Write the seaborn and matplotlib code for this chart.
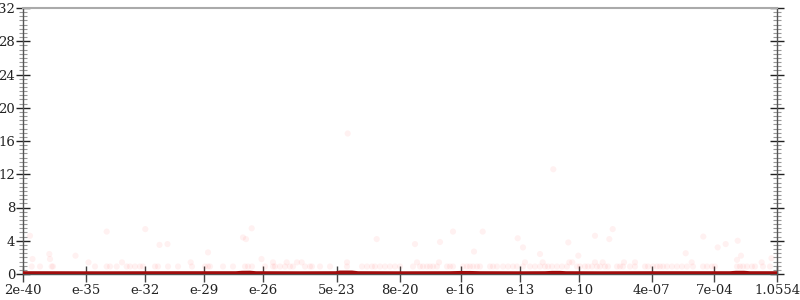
import numpy as np
import pandas as pd
import matplotlib
matplotlib.use("Agg")
import matplotlib.pyplot as plt
from matplotlib.ticker import MultipleLocator
import seaborn as sns

# ---- data (x in axis position units, y in value units) ----
tick_pos = [23, 86, 145.3, 204, 263.3, 336.7, 399.5, 460.5, 520, 579.3, 651.5, 714.3, 777]
tick_labels = ["2e-40", "e-35", "e-32", "e-29", "e-26", "5e-23", "8e-20",
               "e-16", "e-13", "e-10", "4e-07", "7e-04", "1.0554"]

pts_x_high = [30, 106.7, 145.3, 49.3, 50, 32.5, 75.5, 88.5, 122, 159.5, 167.5,
              251.7, 243, 246, 208, 190.7, 261.5, 347.7, 376.7, 273, 286.7, 297,
              301.7, 347, 453, 482.7, 415, 440, 517.7, 523, 474, 417, 439,
              553.3, 612.7, 595, 609.3, 568.3, 540, 578.3, 525, 542.7, 569.3,
              572.3, 595, 602.7, 624, 635, 703.3, 737.7, 725.7, 717.7, 685.7,
              741, 691.7, 761.7, 771.5, 737]
pts_y_high = [4.6, 5.1, 5.4, 2.4, 1.8, 1.8, 2.2, 1.4, 1.4, 3.5, 3.6,
              5.5, 4.4, 4.2, 2.6, 1.4, 1.8, 16.9, 4.2, 1.4, 1.4, 1.4,
              1.4, 1.4, 5.1, 5.1, 3.6, 3.85, 4.3, 3.2, 2.7, 1.4, 1.4,
              12.6, 5.4, 4.6, 4.2, 3.8, 2.4, 2.2, 1.4, 1.4, 1.4,
              1.4, 1.4, 1.4, 1.4, 1.4, 4.5, 4.0, 3.6, 3.2, 2.5,
              2.2, 1.4, 1.4, 1.9, 1.7]

pts_x_low = [31.7, 40, 51.7, 53, 95, 106.7, 110, 116.7, 126.7, 130, 135, 140, 143,
             155, 158, 168, 178, 192, 205, 208, 210, 223, 233, 245, 248, 252, 265,
             273, 275, 280, 285, 290, 293, 305, 310, 312, 320, 330, 347, 362, 367,
             372, 375, 380, 385, 390, 395, 400, 413, 420, 423, 427, 430, 433, 437,
             447, 450, 453, 463, 467, 470, 473, 477, 480, 490, 493, 497, 503, 508,
             513, 517, 523, 530, 535, 540, 545, 548, 552, 557, 562, 567, 577, 580,
             585, 588, 592, 597, 600, 605, 608, 617, 620, 623, 630, 635, 645, 648,
             653, 657, 660, 663, 667, 672, 677, 682, 687, 693, 703, 707, 712, 715,
             737, 740, 743, 747, 752, 755, 763, 770]
pts_y_low = [0.9] * len(pts_x_low)

line_x = [23, 100, 180, 236, 242, 250, 256, 300, 336, 340, 352, 358, 400, 450,
          460, 470, 480, 520, 545, 552, 560, 566, 600, 650, 700, 730, 736, 744, 750, 777]
line_y = [0.12, 0.11, 0.12, 0.12, 0.17, 0.18, 0.12, 0.11, 0.12, 0.2, 0.2, 0.12, 0.11, 0.12,
          0.15, 0.15, 0.12, 0.11, 0.12, 0.16, 0.16, 0.12, 0.11, 0.12, 0.12, 0.12, 0.17, 0.17, 0.12, 0.12]

pts = pd.DataFrame({"x": pts_x_high + pts_x_low, "y": pts_y_high + pts_y_low})
line = pd.DataFrame({"x": line_x, "y": line_y})

sns.set_style("white")
plt.rcParams["font.family"] = ["DejaVu Serif"]

fig = plt.figure(figsize=(8, 3), dpi=100)
ax = fig.add_axes([23 / 800, 26 / 300, 754 / 800, 266 / 300])

sns.scatterplot(data=pts, x="x", y="y", ax=ax, s=20, color="#ff2020",
                alpha=0.06, edgecolor="none", legend=False, zorder=2)
sns.lineplot(data=line, x="x", y="y", ax=ax, color="#a00c0c", lw=2.6,
             legend=False, zorder=3)

ax.set_xlim(23, 777)
ax.set_ylim(0, 32)
ax.set_xlabel("")
ax.set_ylabel("")
ax.set_xticks(tick_pos)
ax.set_xticklabels(tick_labels)
ax.yaxis.set_major_locator(MultipleLocator(4))
ax.yaxis.set_minor_locator(MultipleLocator(0.5))

for side in ["left", "right", "bottom"]:
    ax.spines[side].set_color("#555555")
    ax.spines[side].set_linewidth(1.0)
ax.spines["top"].set_color("#aaaaaa")
ax.spines["top"].set_linewidth(1.5)

ax.tick_params(axis="y", which="major", direction="inout", length=10, width=1.0,
               color="#222222", left=True, right=True, labelsize=9.5, pad=0.5,
               labelcolor="#222222")
ax.tick_params(axis="y", which="minor", direction="inout", length=6, width=0.8,
               color="#999999", left=True, right=True)
ax.tick_params(axis="x", which="major", direction="inout", length=12, width=1.0,
               color="#444444", bottom=True, labelsize=9.5, pad=1,
               labelcolor="#222222")
ax.grid(False)

fig.savefig("out.png", dpi=100)
